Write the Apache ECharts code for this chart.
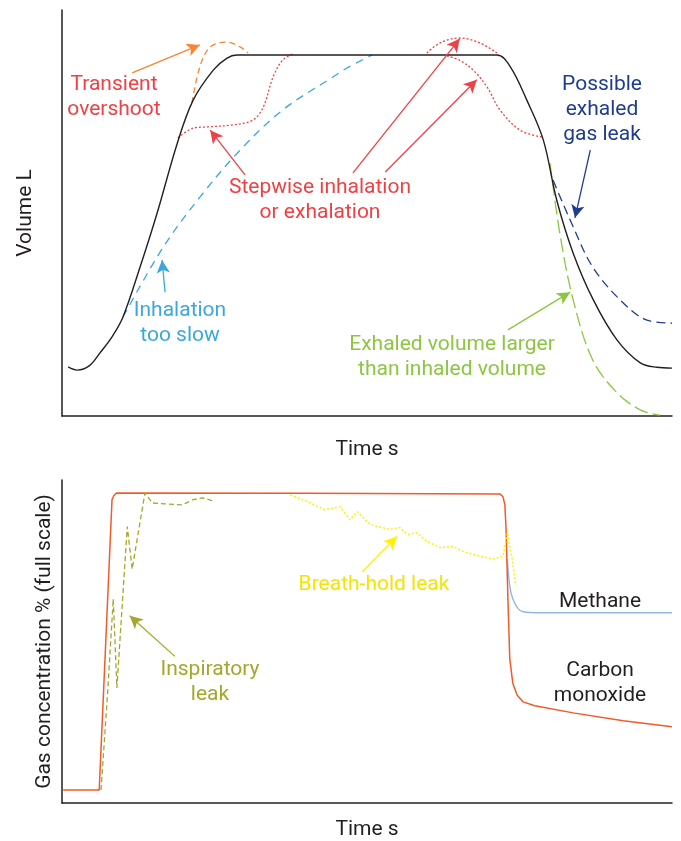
<!DOCTYPE html>
<html>
<head>
<meta charset="utf-8">
<script src="https://cdn.jsdelivr.net/npm/echarts@6/dist/echarts.min.js"></script>
<style>
  html, body { margin: 0; padding: 0; background: #fff; }
  #main { width: 681px; height: 841px; }
</style>
</head>
<body>
<div id="main"></div>
<script>
// time runs 0..100 on both panels, values 0..100 (arbitrary units)
const normalVolume = [[1.0,12.1],[2.5,11.3],[4.5,12.4],[6.2,15.5],[8.2,19.5],[10.0,24.4],[12.8,36.7],[15.6,50.0],[18.9,67.2],[21.5,77.8],[24.8,85.2],[27.0,88.1],[28.7,88.9],[50,88.9],[71.3,88.9],[73.5,86.0],[76.2,77.8],[78.9,68.0],[81.1,53.2],[83.8,40.1],[87.1,28.6],[91.0,18.7],[94.8,13.1],[97.5,12.0],[100,11.8]];
const overshoot = [[21.3,77.1],[22.6,86.0],[24.3,90.9],[27.0,92.1],[29.2,90.9],[30.5,89.4]];
const stepInhale = [[19.0,68.5],[21.5,70.9],[23.8,71.2],[28.0,71.7],[31.3,72.9],[33.0,76.1],[34.6,83.5],[36.2,87.7],[37.9,89.2]];
const stepExhaleTop = [[59.8,89.4],[62.0,91.9],[65.2,93.1],[68.5,91.9],[71.3,89.4]];
const stepExhaleLow = [[63.1,88.7],[65.2,87.6],[67.4,85.2],[69.7,81.0],[71.8,75.4],[75.1,70.4],[78.7,68.7]];
const slowInhale = [[10.0,24.4],[16.6,41.6],[22.6,53.9],[29.2,65.5],[36.2,75.4],[44.4,83.5],[46.7,85.7],[50.8,88.9]];
const exhaledLeak = [[80.5,58.1],[83.8,46.6],[87.0,36.7],[91.5,28.6],[95.9,23.6],[100,22.9]];
const exhaledLarger = [[80.0,62.3],[81.6,45.1],[83.8,28.6],[87.0,13.8],[91.0,5.7],[94.8,1.5],[98.0,0.2]];

const carbonMonoxide = [[0.2,4.0],[6.1,4.0],[8.2,93.9],[8.5,95.2],[9.0,96.0],[40,95.9],[71.8,95.7],[72.3,94.8],[72.6,92.3],[72.8,84.7],[73.1,63.2],[73.4,44.8],[73.9,37.1],[74.6,33.4],[75.6,31.3],[77.5,30.1],[83.8,27.9],[92.0,25.5],[100,23.6]];
const methane = [[73.0,75.5],[73.4,67.2],[73.9,63.2],[74.8,60.1],[75.6,59.2],[78.4,58.9],[100,58.9]];
const inspiratoryLeak = [[6.4,4.0],[7.5,34.7],[8.4,63.2],[9.0,35.6],[9.8,59.2],[10.7,85.6],[11.5,72.4],[13.6,96.0],[14.8,92.9],[16.9,92.6],[19.7,92.3],[21.5,93.9],[23.1,94.5],[25.1,93.3]];
const breathHoldLeak = [[37.4,95.4],[40.0,93.5],[43.1,90.8],[45.6,91.7],[47.2,87.7],[48.4,90.2],[50.5,86.2],[53.8,84.7],[55.4,85.3],[56.6,83.1],[58.2,83.7],[59.8,81.0],[62.0,79.1],[64.1,79.4],[65.7,77.9],[68.5,76.4],[70.7,75.5],[72.3,76.4],[73.0,83.7],[73.8,75.5],[74.4,67.2]];

// annotation arrows [from, to, colour]
const topArrows = [
  [[11.5,84.5],[22.6,91.4],'#f58634'],
  [[30.0,59.4],[24.3,70.4],'#ef4044'],
  [[47.7,59.9],[65.2,92.9],'#ef4044'],
  [[53.0,60.1],[68.0,82.8],'#ef4044'],
  [[16.9,30.5],[16.4,38.4],'#3aa8dc'],
  [[86.6,65.5],[84.1,48.8],'#1f3d8f'],
  [[73.1,21.2],[83.3,30.5],'#8dc641']
];
const bottomArrows = [
  [[49.2,71.5],[54.9,82.5],'#fff200'],
  [[18.5,45.4],[11.1,58.0],'#a3a82a']
];

const FONT = 'Roboto';
const FS = 21;
const chart = echarts.init(document.getElementById('main'));

function line(data, color, type, idx, width, smooth) {
  return {
    type: 'line', data: data, xAxisIndex: idx, yAxisIndex: idx,
    showSymbol: false, symbol: 'none', smooth: smooth === undefined ? 0.35 : smooth,
    silent: true,
    lineStyle: { color: color, width: width || 1.3, type: type }
  };
}
function arrows(list, idx) {
  return {
    type: 'line', data: [], xAxisIndex: idx, yAxisIndex: idx,
    markLine: {
      silent: true, symbol: ['none', 'arrow'], symbolSize: [10, 13],
      label: { show: false },
      data: list.map(a => [
        { coord: a[0], lineStyle: { color: a[2], width: 1.3, type: 'solid' } },
        { coord: a[1] }
      ])
    }
  };
}
function txt(x, y, s, color) {
  return {
    type: 'text',
    style: { x: x, y: y, text: s, fill: color, font: FS + 'px ' + FONT,
      textAlign: 'center', textVerticalAlign: 'top', lineHeight: 25 }
  };
}
const axisLine = { show: true, lineStyle: { color: '#231f20', width: 1.5 } };
function xAx(idx, gap) {
  return { type: 'value', gridIndex: idx, min: 0, max: 100, name: 'Time s', nameLocation: 'middle', nameGap: gap,
    nameTextStyle: { fontFamily: FONT, fontSize: FS, color: '#231f20' },
    axisLine: axisLine, axisTick: { show: false }, axisLabel: { show: false }, splitLine: { show: false } };
}
function yAx(idx, name, gap) {
  return { type: 'value', gridIndex: idx, min: 0, max: 100, name: name, nameLocation: 'middle', nameGap: gap,
    nameTextStyle: { fontFamily: FONT, fontSize: FS, color: '#231f20' },
    axisLine: axisLine, axisTick: { show: false }, axisLabel: { show: false }, splitLine: { show: false } };
}

chart.setOption({
  animation: false,
  backgroundColor: '#fff',
  grid: [
    { left: 62, right: 9, top: 10, height: 406 },
    { left: 62, right: 9, top: 480, height: 326 }
  ],
  xAxis: [xAx(0, 23), xAx(1, 16)],
  yAxis: [yAx(0, 'Volume L', 26), yAx(1, 'Gas concentration % (full scale)', 7)],
  series: [
    line(slowInhale, '#3aa8dc', [8, 6], 0),
    line(overshoot, '#f58634', [6, 4], 0),
    line(stepInhale, '#ef4044', [2, 2], 0),
    line(stepExhaleTop, '#ef4044', [2, 2], 0),
    line(stepExhaleLow, '#ef4044', [2, 2], 0),
    line(exhaledLeak, '#1f3d8f', [9, 5], 0),
    line(exhaledLarger, '#8dc641', [14, 5], 0),
    line(normalVolume, '#231f20', 'solid', 0, 1.4),
    arrows(topArrows, 0),
    line(methane, '#8fb9e3', 'solid', 1, 1.4, 0.3),
    line(carbonMonoxide, '#f15a29', 'solid', 1, 1.5, 0),
    line(inspiratoryLeak, '#a3a82a', [5, 3], 1, 1.3, 0),
    line(breathHoldLeak, '#fff200', [2, 2], 1, 1.5, 0),
    arrows(bottomArrows, 1)
  ],
  graphic: [
    txt(114, 72, 'Transient\novershoot', '#ef4044'),
    txt(320, 175, 'Stepwise inhalation\nor exhalation', '#ef4044'),
    txt(602, 72, 'Possible\nexhaled\ngas leak', '#1f3d8f'),
    txt(180, 298, 'Inhalation\ntoo slow', '#3aa8dc'),
    txt(452, 332, 'Exhaled volume larger\nthan inhaled volume', '#8dc641'),
    txt(374, 572, 'Breath-hold leak', '#f5e400'),
    txt(210, 657, 'Inspiratory\nleak', '#a3a82a'),
    txt(600, 589, 'Methane', '#231f20'),
    txt(600, 658, 'Carbon\nmonoxide', '#231f20')
  ]
});
</script>
</body>
</html>
